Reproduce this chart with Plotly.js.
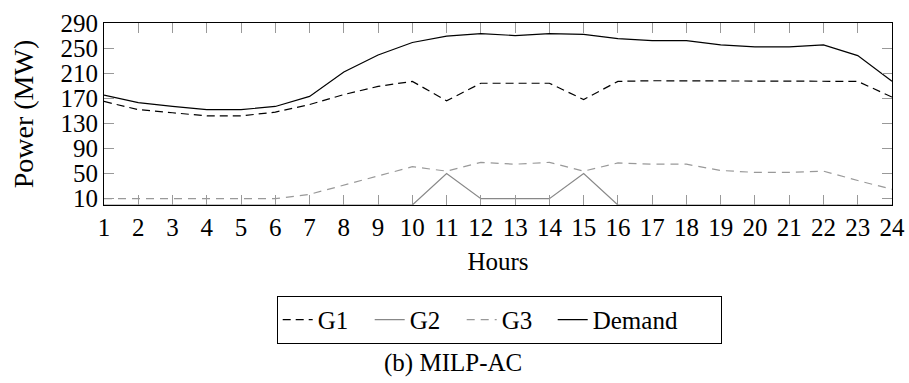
<!DOCTYPE html>
<html>
<head>
<meta charset="utf-8">
<script src="https://cdn.plot.ly/plotly-3.0.1.min.js"></script>
<style>body{margin:0;padding:0;background:#fff;} #chart{width:909px;height:383px;}</style>
</head>
<body>
<div id="chart"></div>
<script>
const hours = [1,2,3,4,5,6,7,8,9,10,11,12,13,14,15,16,17,18,19,20,21,22,23,24];
const g1 = [165,152,147,142,142,148,160,176,189,197,166,194,194,194,168,197,198,198,198,198,198,198,197,172];
const g2 = [0,0,0,0,0,0,0,0,0,0,50,10,10,10,50,0,0,0,0,0,0,0,0,0];
const g3 = [10,10,10,10,10,10,17,32,46,61,54,68,65,68,54,67,65,65,55,52,52,54,39,25];
const demand = [175,163,157,152,152,157,173,212,239,259,269,273,270,273,272,265,262,262,255,252,252,255,238,197];
const yTicks = [10,50,90,130,170,210,250,290];
const seriesNames = ["G1","G2","G3","Demand"];

const FONT = "Liberation Serif";
const traces = [
  {x: hours, y: g1, name: seriesNames[0], mode: "lines", legendwidth: 47, line: {color: "#000", width: 1.2, dash: "8px,5px"}},
  {x: hours, y: g2, name: seriesNames[1], mode: "lines", legendwidth: 47, line: {color: "#888", width: 1.2}},
  {x: hours, y: g3, name: seriesNames[2], mode: "lines", legendwidth: 46, line: {color: "#999", width: 1.2, dash: "8px,6px"}},
  {x: hours, y: demand, name: seriesNames[3], mode: "lines", legendwidth: 123, line: {color: "#000", width: 1.2}}
];
const layout = {
  width: 909, height: 383,
  margin: {l: 104, r: 17, t: 23, b: 178},
  paper_bgcolor: "#fff", plot_bgcolor: "#fff",
  font: {family: FONT, size: 25, color: "#000"},
  showlegend: true,
  xaxis: {
    range: [1, 24], tickvals: hours, ticktext: hours.map(String),
    showgrid: false, zeroline: false,
    showline: true, linecolor: "#000", linewidth: 1, mirror: "allticks",
    ticks: "inside", ticklen: 10, tickcolor: "#999", tickwidth: 1,
    tickfont: {family: FONT, size: 25},
    title: {text: "Hours", font: {family: FONT, size: 25}, standoff: 12}
  },
  yaxis: {
    range: [0, 290], tickvals: yTicks, ticktext: yTicks.map(String),
    showgrid: false, zeroline: false,
    showline: true, linecolor: "#000", linewidth: 1, mirror: "allticks",
    ticks: "inside", ticklen: 10, tickcolor: "#999", tickwidth: 1,
    tickfont: {family: FONT, size: 25},
    title: {text: "Power (MW)", font: {family: FONT, size: 28}, standoff: 18}
  },
  legend: {
    orientation: "h", x: (276.7-104)/788, xanchor: "left", y: (205-296)/182.3, yanchor: "top",
    bordercolor: "#000", borderwidth: 1, bgcolor: "#fff",
    font: {family: FONT, size: 25}, itemwidth: 30, tracegroupgap: 0
  },
  annotations: [
    {text: "(b) MILP-AC", xref: "paper", yref: "paper", x: (452.5-104)/788, y: (205-363)/182.3,
     xanchor: "center", yanchor: "middle", showarrow: false, font: {family: FONT, size: 25}}
  ]
};
Plotly.newPlot("chart", traces, layout, {displayModeBar: false, staticPlot: true});
</script>
</body>
</html>
